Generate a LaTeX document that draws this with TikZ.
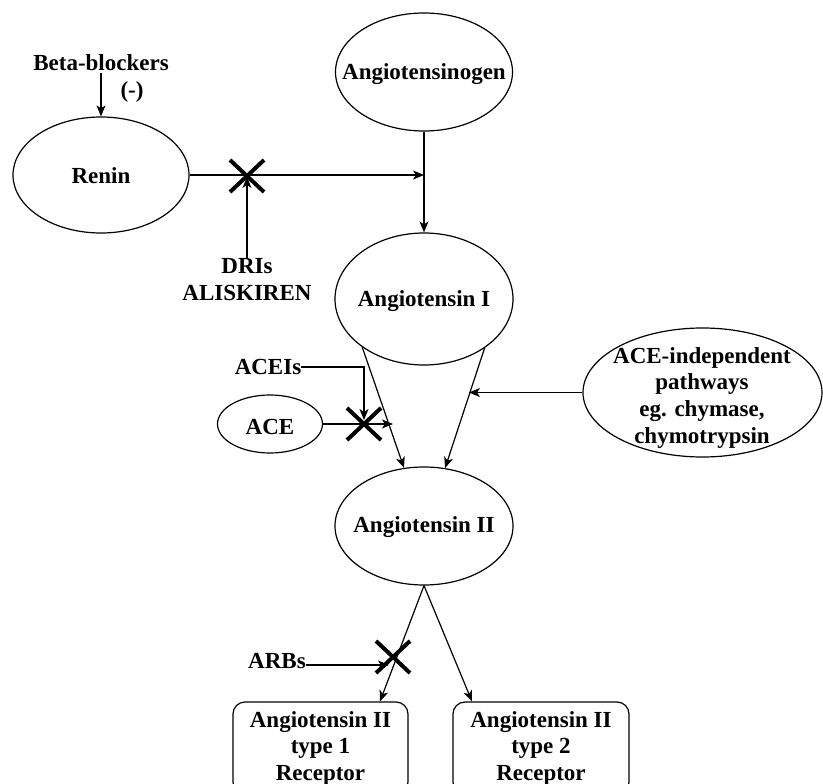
\documentclass[tikz,border=0pt]{standalone}
\usepackage{fontspec}
\setmainfont{Liberation Serif}
\usetikzlibrary{shapes.geometric,shapes.misc,arrows.meta,calc}
\begin{document}
\begin{tikzpicture}[x=1pt,y=-1pt,
  oval/.style={draw, ellipse, line width=1.2pt, inner sep=0pt},
  lbl/.style={font=\fontsize{23}{27}\selectfont\bfseries, inner sep=0pt, align=center},
  recbox/.style={draw, rounded corners=12pt, line width=1.2pt, inner sep=0pt,
    font=\fontsize{23}{26.5}\selectfont\bfseries, align=center},
  conn/.style={line width=1.2pt, -{Stealth[length=11pt,width=9pt,inset=3pt]}},
  plainline/.style={line width=1.2pt},
  xmark/.style={draw, cross out, line width=4pt, minimum width=30pt, minimum height=28pt, inner sep=0pt}
]
\useasboundingbox (0,0) rectangle (823,784);
\clip (0,0) rectangle (823,784);
\fill[white] (0,0) rectangle (823,784);

% ellipses
\node[oval, minimum width=176pt, minimum height=116pt] (renin) at (101,175) {};
\node[oval, minimum width=177pt, minimum height=118pt] (aog) at (424,72) {};
\node[oval, minimum width=178pt, minimum height=132pt] (a1) at (424,299) {};
\node[oval, minimum width=178pt, minimum height=118pt] (a2) at (424,526) {};
\node[oval, minimum width=105pt, minimum height=58pt] (ace) at (270,424) {};
\node[oval, minimum width=239pt, minimum height=129pt] (aind) at (702.5,392.5) {};

% texts in ellipses
\node[lbl] (renint) at (101,176) {Renin};
\node[lbl] (aogt) at (424,74) {Angiotensinogen};
\node[lbl] (a1t) at (424,301) {Angiotensin I};
\node[lbl] (a2t) at (424,527) {Angiotensin II};
\node[lbl] (acet) at (270,427) {ACE};
\node[lbl] (aindt) at (702,398) {ACE-independent\\pathways\\eg. chymase,\\chymotrypsin};

% free labels
\node[lbl] (bb) at (101,62.5) {Beta-blockers};
\node[lbl] (minus) at (132,92) {(-)};
\node[lbl] (dri) at (247,280) {DRIs\\ALISKIREN};
\node[lbl] (aceis) at (268,367) {ACEIs};
\node[lbl] (arbs) at (277,661.5) {ARBs};

% receptor boxes
\node[recbox, minimum width=175pt, minimum height=92pt] (r1) at (320.5,748) {Angiotensin II\\type 1\\Receptor};
\node[recbox, minimum width=176pt, minimum height=92pt] (r2) at (541,748) {Angiotensin II\\type 2\\Receptor};

% junction points
\coordinate (j1) at (424,175);
\coordinate (j2) at (393,424);
\coordinate (j3) at (389,665);

\draw[conn] ([yshift=-2pt]bb.south) -- (renin.north);
\draw[conn] (renin.east) -- (j1);
\draw[conn] (aog.south) -- (a1.north);
\draw[conn] (dri.north) -- (247,177);
\draw[conn] (a1.218.8) -- (a2.109.3);
\draw[conn] (a1.321.2) -- (a2.70.7);
\draw[conn] (aceis.east) -| (364,420);
\draw[conn] (ace.east) -- (j2);
\draw[conn] (aind.west) -- (469,392.5);
\draw[conn] (a2.south) -- ($(r1.north)+(59.5,0)$);
\draw[conn] (a2.south) -- ($(r2.north)+(-69,0)$);
\draw[conn] (arbs.east |- j3) -- (j3);

\node[xmark] (x1) at (247,176) {};
\node[xmark] (x2) at (364,424) {};
\node[xmark] (x3) at (393,657) {};
\end{tikzpicture}
\end{document}
